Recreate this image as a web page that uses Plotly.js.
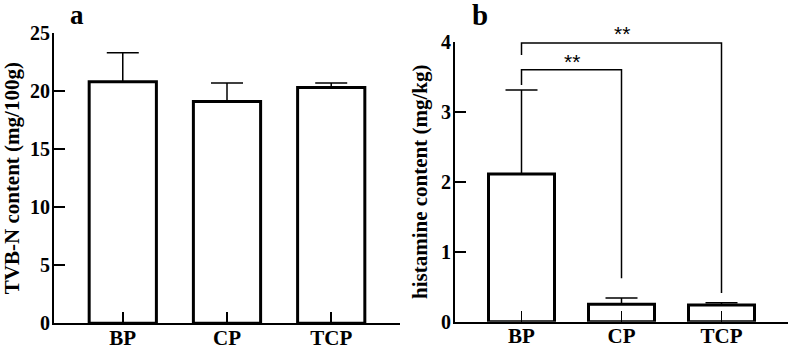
<!DOCTYPE html>
<html>
<head>
<meta charset="utf-8">
<script src="https://cdn.plot.ly/plotly-3.0.1.min.js"></script>
<style>
  html, body { margin: 0; padding: 0; background: #fff; }
  #chart { width: 789px; height: 349px; }
</style>
</head>
<body>
<div id="chart"></div>
<script>
// Groups shown on both panels
const groups = ['BP', 'CP', 'TCP'];

// Panel a: TVB-N content (mg/100g), mean and SD
const tvbnMean = [20.8, 19.1, 20.3];
const tvbnSD = [2.5, 1.6, 0.4];

// Panel b: histamine content (mg/kg), mean and SD
const histMean = [2.11, 0.25, 0.24];
const histSD = [1.2, 0.09, 0.03];

// Significance brackets on panel b (BP vs CP, BP vs TCP)
const cmpTo = ['CP', 'TCP'];
const cmpLevel = [3.6, 3.98];      // height of the horizontal bar
const cmpLeftEnd = [3.38, 3.81];   // bottom of the leg over BP
const cmpRightEnd = [0.62, 0.41];  // bottom of the leg over the compared group
const cmpLabel = ['**', '**'];
const cmpLabelY = [3.52, 3.92];    // bottom of the star label box

const W = 789, H = 349;
const HIST_MAX = 4;
const serifBold = { family: 'Liberation Serif, Times New Roman, serif', weight: 'bold', color: '#000' };

function barTrace(y, sd, xa, ya, w) {
  return {
    type: 'bar', x: groups, y: y, xaxis: xa, yaxis: ya, width: w,
    marker: { color: '#fff', line: { color: '#000', width: 3 } },
    error_y: {
      type: 'data', symmetric: false, array: sd, arrayminus: sd.map(() => 0),
      color: '#000', thickness: 1.5, width: 16
    },
    hoverinfo: 'skip', showlegend: false
  };
}

const traces = [
  barTrace(tvbnMean, tvbnSD, 'x', 'y', 0.645),
  barTrace(histMean, histSD, 'x2', 'y2', 0.66)
];

// bracket lines built from the comparison arrays
cmpTo.forEach((g, i) => {
  traces.push({
    type: 'scatter', mode: 'lines', xaxis: 'x2', yaxis: 'y2',
    x: ['BP', 'BP', g, g],
    y: [cmpLeftEnd[i], cmpLevel[i], cmpLevel[i], cmpRightEnd[i]],
    line: { color: '#000', width: 1.5 },
    hoverinfo: 'skip', showlegend: false, cliponaxis: false
  });
});

function yAxis(domain, range, dtick, title) {
  return {
    domain: domain, range: range, dtick: dtick, tick0: 0,
    showline: true, linecolor: '#000', linewidth: 2,
    ticks: 'inside', ticklen: 11, tickwidth: 2, tickcolor: '#000',
    showgrid: false, zeroline: false,
    tickfont: Object.assign({ size: 20 }, serifBold),
    ticklabelstandoff: -2,
    title: { text: title, font: Object.assign({ size: 21 }, serifBold), standoff: 8 },
    automargin: false, fixedrange: true
  };
}

function xAxis(domain, range, anchor) {
  return {
    domain: domain, range: range, anchor: anchor, type: 'category',
    showline: true, linecolor: '#000', linewidth: 2,
    ticks: 'inside', ticklen: 11, tickwidth: 1.5, tickcolor: '#000',
    showgrid: false, zeroline: false,
    tickfont: Object.assign({ size: 21 }, serifBold),
    ticklabelstandoff: -6,
    automargin: false, fixedrange: true
  };
}

const annotations = [
  { xref: 'paper', yref: 'paper', x: 77 / W, y: 1 - 15 / H, text: 'a', showarrow: false,
    xanchor: 'center', yanchor: 'middle', font: Object.assign({ size: 27 }, serifBold) },
  { xref: 'paper', yref: 'paper', x: 480 / W, y: 1 - 15 / H, text: 'b', showarrow: false,
    xanchor: 'center', yanchor: 'middle', font: Object.assign({ size: 29 }, serifBold) }
];
cmpTo.forEach((g, i) => {
  annotations.push({
    xref: 'x2', yref: 'y2 domain', x: (groups.indexOf('BP') + groups.indexOf(g)) / 2,
    y: cmpLabelY[i] / HIST_MAX,
    text: cmpLabel[i], showarrow: false, xanchor: 'center', yanchor: 'bottom',
    font: { family: 'Liberation Sans, Arial, sans-serif', size: 21, color: '#000' }
  });
});

const layout = {
  width: W, height: H,
  margin: { l: 0, r: 0, t: 0, b: 0, pad: 0 },
  paper_bgcolor: '#fff', plot_bgcolor: '#fff',
  showlegend: false,
  xaxis: xAxis([54 / W, 400 / W], [-0.66, 2.66], 'y'),
  yaxis: yAxis([25.7 / H, 316 / H], [0, 25], 5, 'TVB-N content (mg/100g)'),
  xaxis2: xAxis([455 / W, 788 / W], [-0.665, 2.665], 'y2'),
  yaxis2: Object.assign(yAxis([27.3 / H, 307.3 / H], [0, HIST_MAX], 1, 'histamine content (mg/kg)'), { anchor: 'x2' }),
  annotations: annotations
};

Plotly.newPlot('chart', traces, layout, { staticPlot: true, displayModeBar: false });
</script>
</body>
</html>
